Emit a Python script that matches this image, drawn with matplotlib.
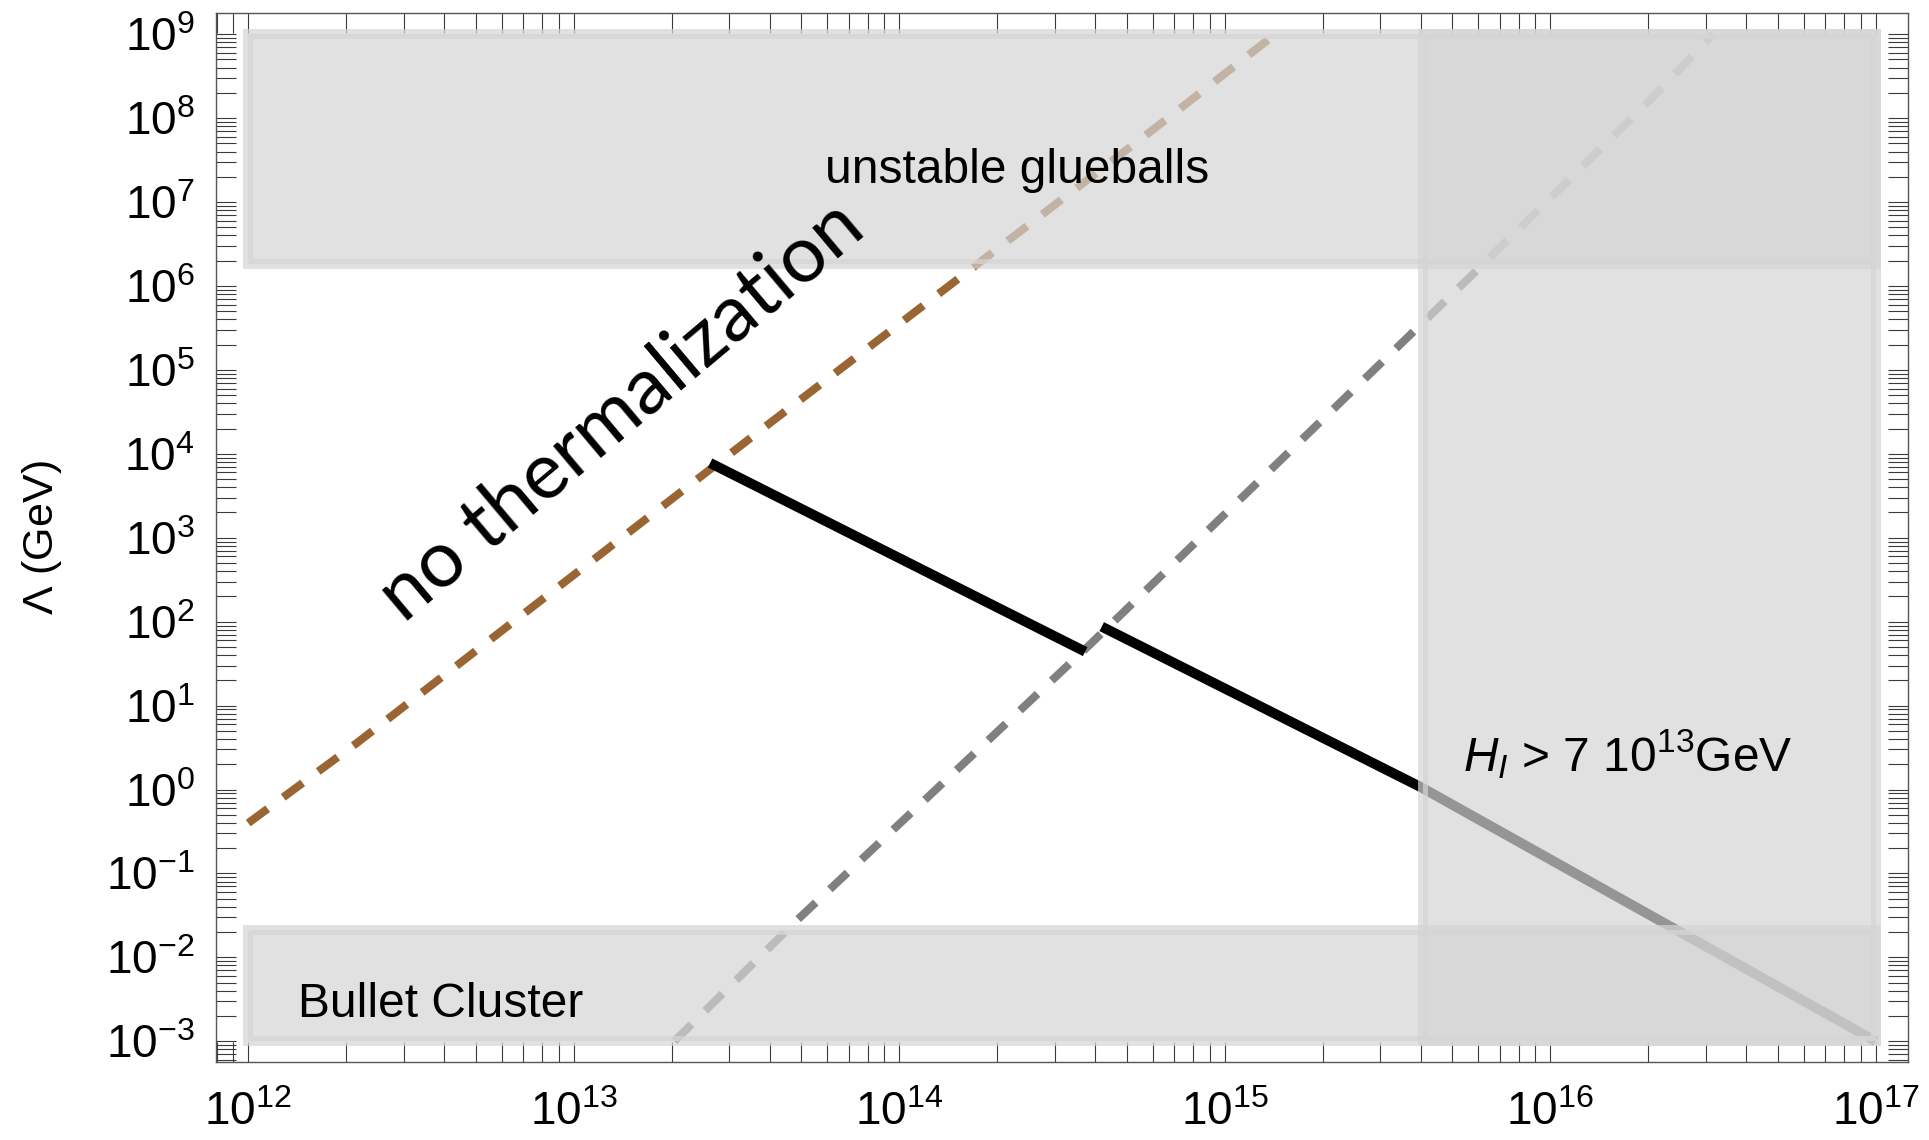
import numpy as np
import matplotlib
matplotlib.use("Agg")
import matplotlib.pyplot as plt
from matplotlib.patches import Rectangle
from matplotlib.ticker import LogLocator, NullFormatter, LogFormatterSciNotation

plt.rcParams['font.family'] = 'Liberation Sans'
plt.rcParams['mathtext.fontset'] = 'custom'
plt.rcParams['mathtext.rm'] = 'Liberation Sans'
plt.rcParams['mathtext.it'] = 'Liberation Sans:italic'

# curves, as log10(H) / log10(Lambda)
brown_logH = [12.0, 12.333, 13.582, 14.811, 15.155]
brown_logL = [-0.40, 0.552, 4.305, 7.957, 9.0]
grey_logH = [13.309, 13.686, 14.582, 15.754, 16.307, 16.50]
grey_logL = [-3.0, -1.557, 1.713, 6.11, 8.216, 9.0]
black1_logH = [13.419, 14.571]
black1_logL = [3.891, 1.643]
black2_logH = [14.622, 15.603, 17.0]
black2_logL = [1.941, 0.027, -3.0]

# excluded regions
band_H = [1e12, 1e17]
glueball_L = [10**6.26, 1e9]
bullet_L = [1e-3, 10**-1.67]
inflation_H = [10**15.61, 1e17]
full_L = [1e-3, 1e9]

xlim = [10**11.9, 10**17.1]
ylim = [10**-3.25, 10**9.25]

brown = '#996633'
band_col = (0.837, 0.837, 0.837, 0.7)

fig = plt.figure(figsize=(19.29, 11.40), dpi=100)
ax = fig.add_axes([0.1118, 0.0682, 0.8775, 0.9202])
ax.set_xscale('log')
ax.set_yscale('log')
ax.set_xlim(xlim)
ax.set_ylim(ylim)

def pw(a):
    return 10**np.array(a)

ax.plot(pw(brown_logH), pw(brown_logL), color=brown, lw=5.8, dashes=(3.0, 2.4), zorder=1)
ax.plot(pw(grey_logH), pw(grey_logL), color='#808080', lw=5.8, dashes=(3.0, 2.4), zorder=1)
ax.plot(pw(black1_logH), pw(black1_logL), color='black', lw=7.2, zorder=1, solid_capstyle='butt')
ax.plot(pw(black2_logH), pw(black2_logL), color='black', lw=7.2, zorder=1, solid_capstyle='butt')

def band(h, l):
    r = Rectangle((h[0], l[0]), h[1] - h[0], l[1] - l[0], facecolor=band_col,
                  edgecolor=band_col, lw=7.2, zorder=2)
    ax.add_patch(r)

band(band_H, glueball_L)
band(band_H, bullet_L)
band(inflation_H, full_L)

ax.text(10**14.363, 10**7.224, 'unstable glueballs', fontsize=34.5, ha='center', va='baseline', zorder=3)
ax.text(10**12.592, 10**-2.705, 'Bullet Cluster', fontsize=34.5, ha='center', va='baseline', zorder=3)
ax.text(10**15.732, 10**0.214, r'$H_I$ > 7 10$^{13}$GeV', fontsize=34.5, ha='left', va='baseline', zorder=3)
ax.text(10**13.19, 10**4.30, 'no thermalization', fontsize=57, family='Lato',
        rotation=40.1, rotation_mode='anchor', ha='center', va='baseline', zorder=3)

ax.set_ylabel(r'$\Lambda$ (GeV)', fontsize=31, labelpad=30)

for a in (ax.xaxis, ax.yaxis):
    a.set_major_locator(LogLocator(base=10, numticks=40))
    a.set_minor_locator(LogLocator(base=10, subs=np.arange(2, 10), numticks=40))
    a.set_minor_formatter(NullFormatter())
    a.set_major_formatter(LogFormatterSciNotation())
ax.tick_params(which='both', direction='in', length=14.4, width=0.8, color='#3a3a3a',
               top=True, right=True, labelsize=33)
ax.tick_params(axis='x', pad=21)
ax.tick_params(axis='y', pad=15)
for s in ax.spines.values():
    s.set_color('#555555')
    s.set_linewidth(1.0)

fig.savefig('out.png', dpi=100)
